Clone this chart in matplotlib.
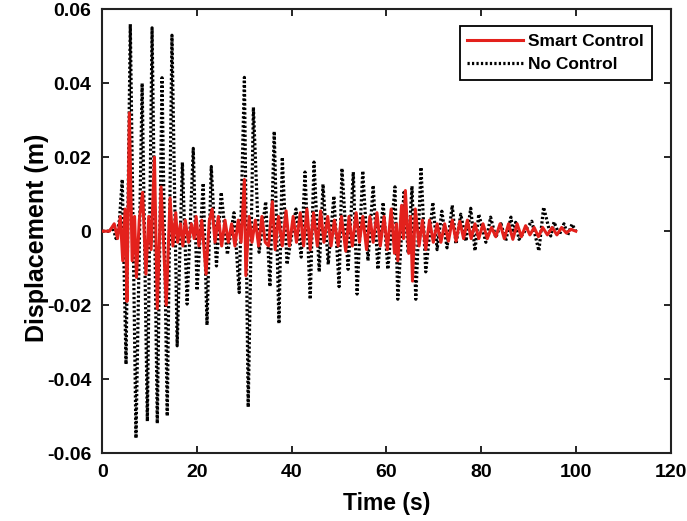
import matplotlib
matplotlib.use('Agg')
from matplotlib import pyplot as plt

plt.rcParams['font.family'] = ['Liberation Sans', 'DejaVu Sans']
plt.rcParams['font.weight'] = 'bold'

# No Control: extremes (time s, displacement m), rows of 10
nc_time = [0, 1.5, 2.2, 2.9, 3.6, 4.2, 5.0, 5.9, 7.1, 8.4,
           9.5, 10.5, 11.6, 12.6, 13.7, 14.7, 15.8, 16.9, 17.9, 19.2,
           20.0, 21.3, 22.1, 23.0, 24.1, 25.1, 26.4, 27.8, 28.9, 30.0,
           30.8, 31.9, 33.1, 34.5, 35.4, 36.3, 37.3, 38.0, 39.0, 40.9,
           42.0, 42.8, 43.9, 44.7, 45.8, 46.6, 47.7, 48.9, 50.0, 50.6,
           51.9, 53.0, 53.8, 55.0, 56.1, 57.2, 58.2, 59.3, 60.3, 61.8,
           62.4, 63.7, 64.6, 65.4, 66.2, 67.3, 68.3, 69.8, 70.7, 71.7,
           72.8, 73.9, 74.7, 75.7, 76.8, 77.8, 78.7, 79.5, 81.0, 82.0,
           83.1, 84.2, 85.2, 86.3, 86.8, 87.3, 88.0, 89.5, 90.7, 92.2,
           93.2, 94.7, 95.4, 96.5, 97.5, 98.3, 99.2, 100.0]
nc_disp = [0, 0, 0.001, -0.002, 0.003, 0.014, -0.036, 0.056, -0.056, 0.040,
           -0.0514, 0.055, -0.052, 0.0415, -0.050, 0.053, -0.031, 0.0186, -0.0197, 0.0224,
           -0.016, 0.013, -0.0254, 0.0175, -0.0094, 0.0105, -0.0063, 0.005, -0.0166, 0.0416,
           -0.0476, 0.0335, -0.0057, 0.008, -0.015, 0.027, -0.025, 0.020, -0.009, 0.006,
           -0.007, 0.016, -0.0184, 0.0187, -0.011, 0.0127, -0.009, 0.0095, -0.015, 0.017,
           -0.0103, 0.016, -0.017, 0.0163, -0.008, 0.0124, -0.0103, 0.0078, -0.0103, 0.012,
           -0.0184, 0.0105, -0.006, 0.0122, -0.0184, 0.0173, -0.011, 0.0078, -0.005, 0.0054,
           -0.0045, 0.007, -0.0035, 0.0046, -0.0027, 0.0062, -0.0053, 0.0046, -0.003, 0.0038,
           -0.0017, 0.002, -0.0026, 0.0038, -0.001, 0.0024, -0.0022, 0.0005, 0.0027, -0.0053,
           0.0065, -0.0013, 0.0025, -0.001, 0.002, -0.001, 0.0019, 0]

# Smart Control: extremes, rows of 10
sc_time = [0, 1.5, 2.5, 3.2, 3.8, 4.3, 4.8, 5.2, 5.7, 6.3,
           6.8, 7.2, 7.8, 8.5, 9.2, 9.8, 10.3, 11.0, 11.6, 12.4,
           13.5, 14.3, 14.9, 15.5, 15.9, 16.5, 17.0, 17.5, 18.2, 18.8,
           19.4, 19.8, 20.4, 21.0, 21.9, 22.6, 23.2, 23.8, 24.5, 25.2,
           25.9, 26.6, 27.3, 28.0, 28.7, 29.3, 30.0, 30.3, 31.0, 31.6,
           32.3, 33.0, 33.7, 34.4, 35.1, 35.9, 36.5, 37.2, 38.0, 38.8,
           39.5, 40.3, 41.0, 41.8, 42.5, 43.2, 43.9, 44.6, 45.4, 46.1,
           46.8, 47.6, 48.3, 49.0, 49.8, 50.5, 51.4, 52.1, 52.8, 53.6,
           54.3, 55.0, 55.8, 56.5, 57.2, 58.0, 58.7, 59.5, 60.2, 61.0,
           61.7, 62.1, 62.4, 63.2, 63.6, 64.0, 64.7, 65.1, 65.5, 66.1,
           66.9, 67.6, 68.3, 69.1, 69.9, 70.7, 71.5, 72.3, 73.1, 73.9,
           74.7, 75.5, 76.3, 77.1, 77.9, 78.7, 79.5, 80.4, 81.3, 82.2,
           83.1, 84.0, 84.9, 85.8, 86.7, 87.6, 88.5, 89.4, 90.3, 91.2,
           92.1, 93.0, 94.0, 95.0, 96.0, 97.0, 98.0, 99.0, 100.0]
sc_disp = [0, 0, 0.002, -0.002, 0.004, -0.008, 0.006, -0.019, 0.032, -0.008,
           0.004, -0.0125, 0.003, 0.0105, -0.0116, 0.004, -0.005, 0.020, -0.021, 0.012,
           -0.020, 0.009, -0.004, 0.005, -0.003, 0.002, -0.004, 0.003, -0.003, 0.002,
           -0.002, 0.004, -0.004, 0.003, -0.0116, 0.003, 0.006, -0.003, 0.004, -0.004,
           0.003, -0.003, 0.002, -0.004, 0.003, -0.003, 0.014, -0.012, 0.004, -0.003,
           0.003, -0.004, 0.004, -0.003, -0.004, 0.008, -0.005, 0.004, -0.004, 0.0055,
           -0.004, 0.004, -0.003, 0.005, -0.004, 0.006, -0.005, 0.005, -0.004, 0.0055,
           -0.003, 0.004, -0.004, 0.003, -0.004, 0.004, -0.0054, 0.004, -0.004, 0.005,
           -0.003, 0.004, -0.005, 0.004, -0.003, 0.005, -0.004, 0.004, -0.005, 0.006,
           -0.006, 0.002, -0.008, 0.007, -0.002, 0.011, -0.006, 0.004, -0.0135, 0.006,
           -0.004, 0.003, -0.005, 0.003, -0.003, 0.002, -0.003, 0.002, -0.0027, 0.003,
           -0.0027, 0.0027, -0.002, 0.003, -0.002, 0.002, -0.002, 0.002, -0.002, 0.001,
           -0.0015, 0.002, -0.002, 0.002, -0.0022, 0.002, -0.0015, 0.0015, -0.001, 0.001,
           -0.0015, 0.001, -0.001, 0.001, -0.001, 0.001, -0.0005, 0.0005, 0]

y_ticks = [-0.06, -0.04, -0.02, 0, 0.02, 0.04, 0.06]
y_labels = ['-0.06', '-0.04', '-0.02', '0', '0.02', '0.04', '0.06']
x_ticks = [0, 20, 40, 60, 80, 100, 120]

fig = plt.figure(figsize=(6.87, 5.21), dpi=100)
ax = fig.add_axes([0.149, 0.1305, 0.827, 0.8515])

ax.plot(sc_time, sc_disp, color='#e3211c', linewidth=2.2, label='Smart Control', zorder=3)
ax.plot(nc_time, nc_disp, color='black', linestyle=(0, (0.7, 0.7)), linewidth=2.3,
        label='No Control', zorder=2)

ax.set_xlim(0, 120)
ax.set_ylim(-0.06, 0.06)
ax.set_xticks(x_ticks)
ax.set_yticks(y_ticks)
ax.set_yticklabels(y_labels)
ax.tick_params(direction='in', top=True, right=True, length=5, width=1.2, labelsize=14, pad=8)
for s in ax.spines.values():
    s.set_linewidth(1.5)
    s.set_color('#222222')

ax.set_xlabel('Time (s)', fontsize=16.5, fontweight='bold')
ax.set_ylabel('Displacement (m)', fontsize=18, fontweight='bold')
ax.xaxis.set_label_coords(0.5, -0.088)
ax.yaxis.set_label_coords(-0.094, 0.485)

leg = ax.legend(loc='upper right', bbox_to_anchor=(0.967, 0.962), fontsize=12.5,
                handlelength=3.2, fancybox=False, edgecolor='black', framealpha=1,
                borderpad=0.45, labelspacing=0.45, handletextpad=0.3, borderaxespad=0)
leg.get_frame().set_linewidth(1.3)
for t in leg.get_texts():
    t.set_fontweight('bold')

plt.savefig('out.png', dpi=100)
